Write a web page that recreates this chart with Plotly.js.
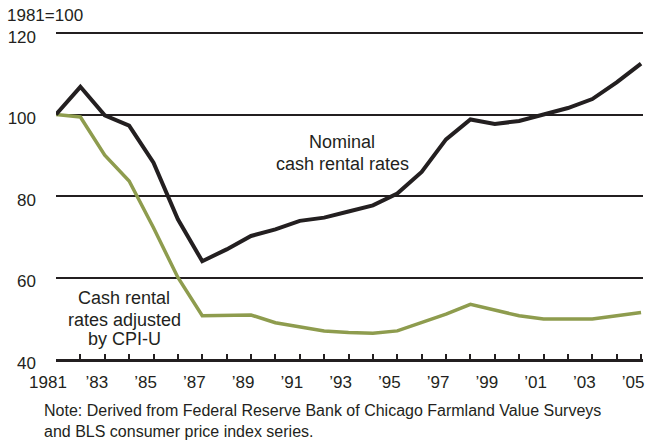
<!DOCTYPE html>
<html>
<head>
<meta charset="utf-8">
<script src="https://cdn.plot.ly/plotly-3.0.1.min.js"></script>
<style>html,body{margin:0;padding:0;background:#fff;}#chart{width:649px;height:448px;}</style>
</head>
<body>
<div id="chart"></div>
<script>
const years = [1981,1982,1983,1984,1985,1986,1987,1988,1989,1990,1991,1992,1993,1994,1995,1996,1997,1998,1999,2000,2001,2002,2003,2004,2005];
const nominal = [100,106.8,99.8,97.3,88.2,74.3,64.0,66.9,70.2,71.8,73.9,74.7,76.2,77.7,80.6,85.9,93.9,98.8,97.7,98.4,100,101.6,103.8,107.9,112.5];
const real = [100,99.4,90.0,83.7,72.2,60.0,50.6,50.8,50.8,48.9,47.9,46.9,46.5,46.3,46.9,48.9,51.0,53.4,52.0,50.6,49.8,49.9,49.8,50.6,51.4];
const tickYears = [1981,1983,1985,1987,1989,1991,1993,1995,1997,1999,2001,2003,2005];
const tickText = ['1981',"’83","’85","’87","’89","’91","’93","’95","’97","’99","’01","’03","’05"];
const yTicks = [40,60,80,100,120];
const nominalLabel = ['Nominal', 'cash rental rates'];
const realLabel = ['Cash rental', 'rates adjusted', 'by CPI-U'];

const ink = '#231f20';
const fam = 'Liberation Sans, Arial, sans-serif';
const font = {family: fam, size: 17, color: ink};
const labFont = {family: fam, size: 18, color: ink};

const traces = [
  {x: years, y: real, mode: 'lines', line: {color: '#8e9c4e', width: 3.5}, hoverinfo: 'skip'},
  {x: years, y: nominal, mode: 'lines', line: {color: ink, width: 4}, hoverinfo: 'skip'}
];

const annotations = [
  {xref: 'paper', yref: 'paper', x: -56/587, y: 1 + 31/328, xanchor: 'left', yanchor: 'top', yshift: -4, xshift: 5,
   text: '1981=100', showarrow: false, font: font},
  {xref: 'paper', yref: 'paper', x: (42-56)/587, y: -(400-359)/328, xanchor: 'left', yanchor: 'top',
   text: 'Note: Derived from Federal Reserve Bank of Chicago Farmland Value Surveys<br>and BLS consumer price index series.',
   showarrow: false, align: 'left', font: {family: fam, size: 16, color: ink}}
];
const nomY = [93.37, 87.97];
nominalLabel.forEach((t, i) => annotations.push({xref: 'x', yref: 'y', x: 1992.75, y: nomY[i], text: t, showarrow: false, font: labFont}));
const realY = [54.85, 49.57, 44.91];
realLabel.forEach((t, i) => annotations.push({xref: 'x', yref: 'y', x: 1983.8, y: realY[i], text: t, showarrow: false, font: labFont}));

const layout = {
  width: 649, height: 448,
  margin: {l: 56, r: 6, t: 31, b: 89},
  paper_bgcolor: '#fff', plot_bgcolor: '#fff',
  showlegend: false,
  font: font,
  xaxis: {
    range: [1981, 2005.08], showgrid: false, zeroline: false,
    showline: true, linecolor: ink, linewidth: 3,
    tickmode: 'array', tickvals: years,
    ticktext: years.map(y => { const i = tickYears.indexOf(y); return i >= 0 ? tickText[i] : ''; }),
    ticks: 'inside', ticklen: 5, tickwidth: 2, tickcolor: ink,
    tickfont: font, ticklabelstandoff: 6, ticklabelshift: -8
  },
  yaxis: {
    range: [40, 120.5], showgrid: true, gridcolor: ink, gridwidth: 2,
    zeroline: false, showline: false,
    tickmode: 'array', tickvals: yTicks, ticks: '',
    tickfont: font, ticklabelstandoff: 19, ticklabelshift: 4
  },
  annotations: annotations
};

Plotly.newPlot('chart', traces, layout, {displayModeBar: false, staticPlot: true});
</script>
</body>
</html>
